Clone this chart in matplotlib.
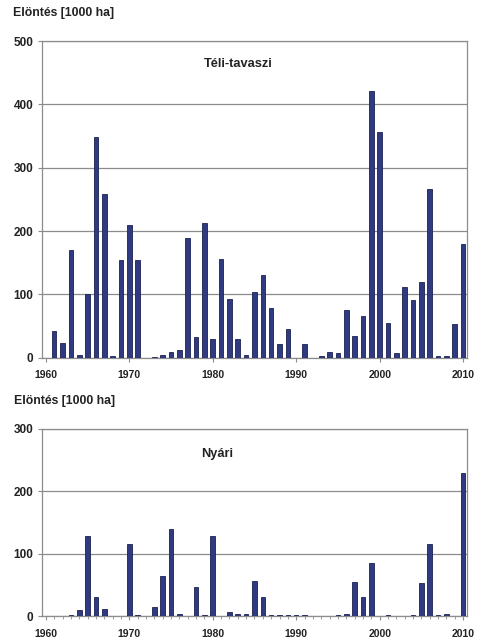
import matplotlib
matplotlib.use("Agg")
import matplotlib.pyplot as plt
from matplotlib.ticker import MultipleLocator

plt.rcParams['font.family'] = ['Liberation Sans', 'DejaVu Sans']

years = list(range(1960, 2011))

# Winter-spring inundation area, 1000 ha
teli_tavaszi = [0, 42, 23, 170, 5, 100, 349, 258, 3, 155,
                209, 154, 0, 1, 4, 9, 12, 189, 33, 213,
                29, 156, 93, 29, 4, 104, 130, 78, 22, 46,
                0, 22, 0, 2, 9, 8, 76, 35, 66, 421,
                357, 55, 7, 111, 91, 120, 266, 3, 2, 53,
                180]

# Summer inundation area, 1000 ha
nyari = [0, 0, 0, 1, 10, 129, 30, 12, 0, 0,
         116, 2, 0, 14, 64, 139, 4, 0, 46, 2,
         129, 0, 7, 3, 3, 56, 30, 2, 1, 1,
         1, 2, 0, 0, 0, 2, 3, 54, 30, 85,
         0, 1, 0, 0, 2, 53, 115, 1, 4, 0,
         230]

panel_titles = ["Téli-tavaszi", "Nyári"]
ylabel = "Elöntés [1000 ha]"
xticks = [1960, 1970, 1980, 1990, 2000, 2010]

bar_color = "#2f3a80"
edge_color = "#1c2152"
grid_color = "#8c8c8c"
text_color = "#222222"

fig = plt.figure(figsize=(4.79, 6.41), dpi=100)
ax1 = fig.add_axes([0.087, 0.442, 0.8885, 0.494])
ax2 = fig.add_axes([0.087, 0.039, 0.8885, 0.292])

def style(ax, values, ymax, title, tx, ty, minor):
    ax.bar(years, values, width=0.55, color=bar_color, edgecolor=edge_color,
           linewidth=0.6, zorder=3)
    ax.set_xlim(1959.5, 2010.5)
    ax.set_ylim(0, ymax)
    ax.yaxis.set_major_locator(MultipleLocator(100))
    ax.set_xticks(xticks)
    if minor:
        ax.xaxis.set_minor_locator(MultipleLocator(1))
        ax.tick_params(axis='x', which='minor', length=2, color=grid_color,
                       width=0.6)
    ax.grid(axis='y', color=grid_color, linewidth=0.9, zorder=0)
    for s in ax.spines.values():
        s.set_color(grid_color)
        s.set_linewidth(0.9)
    ax.tick_params(axis='x', which='major', length=3, color=grid_color,
                   width=0.8, labelsize=7.5, pad=6)
    ax.tick_params(axis='y', which='major', length=3, color=grid_color,
                   width=0.8, labelsize=8.5, pad=3)
    for lab in ax.get_xticklabels() + ax.get_yticklabels():
        lab.set_fontweight('bold')
        lab.set_color(text_color)
    ax.text(tx, ty, title, transform=ax.transAxes, ha='center', va='center',
            fontsize=9.2, fontweight='bold', color=text_color)

style(ax1, teli_tavaszi, 500, panel_titles[0], 0.462, 0.928, False)
style(ax2, nyari, 300, panel_titles[1], 0.412, 0.865, True)

fig.text(0.027, 0.979, ylabel, ha='left', va='center', fontsize=8.8,
         fontweight='bold', color=text_color)
fig.text(0.030, 0.374, ylabel, ha='left', va='center', fontsize=8.8,
         fontweight='bold', color=text_color)

fig.savefig("out.png", dpi=100)
